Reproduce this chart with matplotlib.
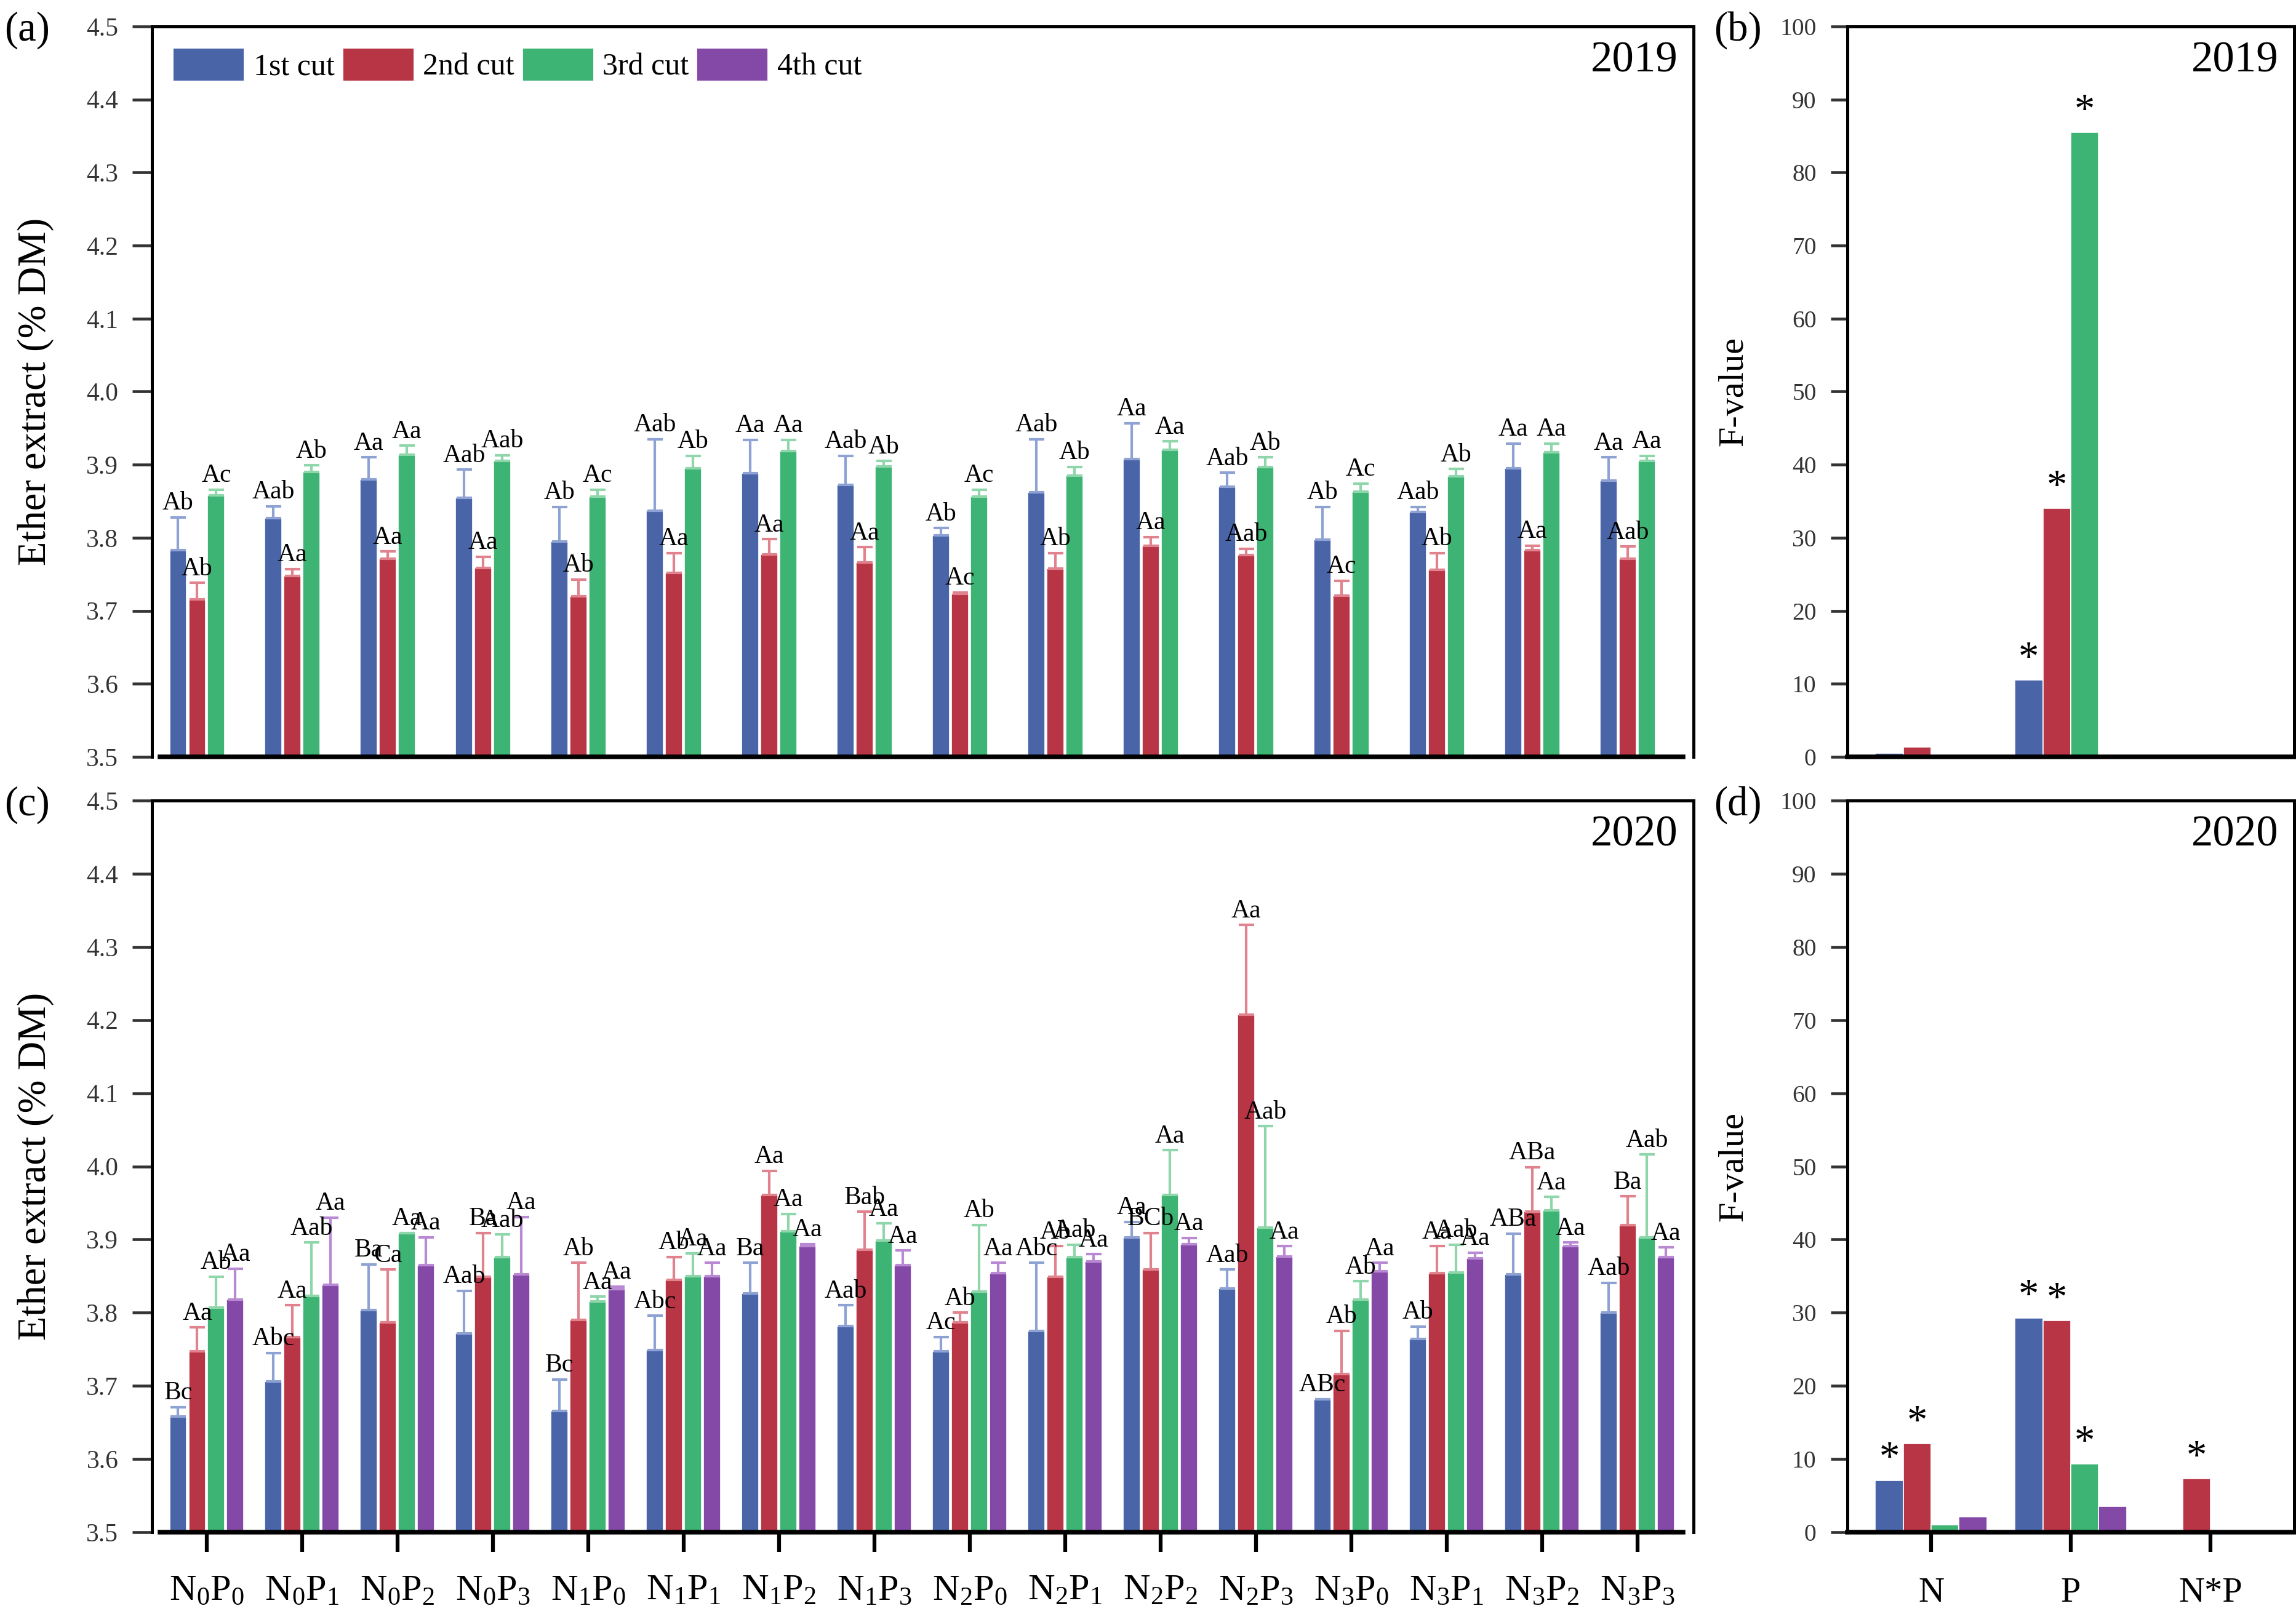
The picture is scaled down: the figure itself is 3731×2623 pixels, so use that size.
import matplotlib
matplotlib.use('Agg')
import matplotlib.pyplot as plt
import numpy as np

plt.rcParams['font.family'] = ['Liberation Serif', 'DejaVu Serif']
plt.rcParams['mathtext.fontset'] = 'custom'
plt.rcParams['mathtext.rm'] = 'Liberation Serif'
plt.rcParams['mathtext.it'] = 'Liberation Serif:italic'

treatments = [(n, p) for n in range(4) for p in range(4)]
tick_labels = [r'N$_{%d}$P$_{%d}$' % (n, p) for n, p in treatments]
cut_names = ['1st cut', '2nd cut', '3rd cut', '4th cut']
factors = ['N', 'P', 'N*P']

# 2019 ether extract (mean, upper error)
ee19_c1 = [3.783, 3.827, 3.880, 3.855, 3.795, 3.837, 3.888, 3.872, 3.803, 3.862, 3.908, 3.870, 3.797, 3.835, 3.895, 3.878]
sd19_c1 = [0.045, 0.016, 0.030, 0.038, 0.047, 0.098, 0.046, 0.040, 0.010, 0.073, 0.049, 0.019, 0.045, 0.007, 0.034, 0.032]
ee19_c2 = [3.716, 3.748, 3.771, 3.759, 3.720, 3.752, 3.777, 3.766, 3.723, 3.758, 3.789, 3.776, 3.721, 3.756, 3.783, 3.771]
sd19_c2 = [0.022, 0.009, 0.010, 0.015, 0.023, 0.027, 0.021, 0.021, 0.002, 0.021, 0.012, 0.009, 0.020, 0.023, 0.006, 0.017]
ee19_c3 = [3.858, 3.890, 3.914, 3.905, 3.856, 3.895, 3.919, 3.898, 3.856, 3.885, 3.920, 3.897, 3.863, 3.884, 3.917, 3.905]
sd19_c3 = [0.008, 0.009, 0.012, 0.008, 0.010, 0.017, 0.015, 0.007, 0.010, 0.012, 0.012, 0.013, 0.011, 0.010, 0.012, 0.007]

lab19_c1 = ['Ab', 'Aab', 'Aa', 'Aab', 'Ab', 'Aab', 'Aa', 'Aab', 'Ab', 'Aab', 'Aa', 'Aab', 'Ab', 'Aab', 'Aa', 'Aa']
lab19_c2 = ['Ab', 'Aa', 'Aa', 'Aa', 'Ab', 'Aa', 'Aa', 'Aa', 'Ac', 'Ab', 'Aa', 'Aab', 'Ac', 'Ab', 'Aa', 'Aab']
lab19_c3 = ['Ac', 'Ab', 'Aa', 'Aab', 'Ac', 'Ab', 'Aa', 'Ab', 'Ac', 'Ab', 'Aa', 'Ab', 'Ac', 'Ab', 'Aa', 'Aa']

# 2020 ether extract
ee20_c1 = [3.658, 3.706, 3.804, 3.772, 3.666, 3.749, 3.826, 3.782, 3.747, 3.775, 3.903, 3.833, 3.682, 3.764, 3.852, 3.800]
sd20_c1 = [0.013, 0.039, 0.062, 0.058, 0.043, 0.047, 0.042, 0.028, 0.020, 0.093, 0.021, 0.026, 0.000, 0.017, 0.056, 0.041]
ee20_c2 = [3.747, 3.767, 3.787, 3.849, 3.790, 3.845, 3.961, 3.886, 3.787, 3.849, 3.859, 4.207, 3.716, 3.854, 3.938, 3.920]
sd20_c2 = [0.033, 0.043, 0.072, 0.060, 0.078, 0.031, 0.033, 0.052, 0.013, 0.042, 0.050, 0.123, 0.059, 0.037, 0.061, 0.039]
ee20_c3 = [3.807, 3.823, 3.909, 3.876, 3.815, 3.850, 3.911, 3.899, 3.829, 3.876, 3.961, 3.916, 3.818, 3.855, 3.940, 3.903]
sd20_c3 = [0.042, 0.073, 0.000, 0.031, 0.007, 0.031, 0.024, 0.023, 0.091, 0.017, 0.061, 0.139, 0.025, 0.038, 0.018, 0.113]
ee20_c4 = [3.818, 3.838, 3.865, 3.852, 3.832, 3.850, 3.891, 3.865, 3.854, 3.870, 3.894, 3.877, 3.857, 3.874, 3.891, 3.876]
sd20_c4 = [0.042, 0.092, 0.038, 0.079, 0.004, 0.018, 0.003, 0.020, 0.014, 0.010, 0.008, 0.014, 0.011, 0.008, 0.005, 0.013]

lab20_c1 = ['Bc', 'Abc', 'Ba', 'Aab', 'Bc', 'Abc', 'Ba', 'Aab', 'Ac', 'Abc', 'Aa', 'Aab', 'ABc', 'Ab', 'ABa', 'Aab']
lab20_c2 = ['Aa', 'Aa', 'Ca', 'Ba', 'Ab', 'Ab', 'Aa', 'Bab', 'Ab', 'Ab', 'BCb', 'Aa', 'Ab', 'Aa', 'ABa', 'Ba']
lab20_c3 = ['Ab', 'Aab', 'Aa', 'Aab', 'Aa', 'Aa', 'Aa', 'Aa', 'Ab', 'Aab', 'Aa', 'Aab', 'Ab', 'Aab', 'Aa', 'Aab']
lab20_c4 = ['Aa', 'Aa', 'Aa', 'Aa', 'Aa', 'Aa', 'Aa', 'Aa', 'Aa', 'Aa', 'Aa', 'Aa', 'Aa', 'Aa', 'Aa', 'Aa']

# F-values of two-way ANOVA (N, P, N*P)
f19 = [[0.5, 10.5, 0.0], [1.3, 34.0, 0.0], [0.1, 85.5, 0.3], None]
sig19 = [[0, 1, 0], [0, 1, 0], [0, 1, 0], None]
f20 = [[7.1, 29.3, 0.0], [12.1, 28.9, 7.3], [1.0, 9.3, 0.0], [2.1, 3.5, 0.0]]
sig20 = [[1, 1, 0], [1, 1, 1], [0, 1, 0], [0, 0, 0]]

colors = ['#4a64a8', '#b83545', '#3db374', '#8449a6']
err_colors = ['#8fa2d4', '#e0838e', '#8fd6ab', '#b98ad3']

fig = plt.figure(figsize=(3731 / 300, 2623 / 300), dpi=300)
ax_a = fig.add_axes([0.0662, 0.5311, 0.6714, 0.4525])
ax_b = fig.add_axes([0.8046, 0.5311, 0.1946, 0.4525])
ax_c = fig.add_axes([0.0662, 0.0507, 0.6714, 0.4533])
ax_d = fig.add_axes([0.8046, 0.0507, 0.1946, 0.4533])

step = 0.2
width = 0.18
x = np.arange(len(treatments))


def style_axes(ax, size, length):
    for s in ['left', 'bottom', 'top', 'right']:
        ax.spines[s].set_linewidth(1.2)
    ax.tick_params(axis='y', direction='out', length=length, width=1.1, pad=5.5,
                   labelsize=size, colors='#333333')


def ee_panel(ax, means, errs, labels, year, show_x):
    for i, (m, e, lab) in enumerate(zip(means, errs, labels)):
        xi = x + (i - 1.5) * step
        ax.bar(xi, np.array(m) - 3.5, width, bottom=3.5, color=colors[i], edgecolor='white',
               linewidth=0.4, label=cut_names[i], zorder=2)
        ax.errorbar(xi, m, yerr=[np.zeros(len(m)), e], fmt='none', ecolor=err_colors[i],
                    elinewidth=1.0, capsize=3, capthick=1.0, zorder=3)
        for xx, mm, ee, tt in zip(xi, m, e, lab):
            ax.text(xx, mm + ee + 0.003, tt, ha='center', va='bottom', fontsize=10, zorder=4)
    ax.set_xlim(-0.574, 15.59)
    ax.set_ylim(3.5, 4.5)
    ax.set_yticks(np.arange(3.5, 4.51, 0.1))
    ax.set_yticklabels(['%.1f' % v for v in np.arange(3.5, 4.51, 0.1)])
    style_axes(ax, 10, 7.6)
    ax.spines['bottom'].set_bounds(-0.49, 15.48)
    ax.spines['bottom'].set_linewidth(1.8)
    ax.set_ylabel('Ether extract (% DM)', fontsize=15.5)
    ax.yaxis.set_label_coords(-0.0635, 0.5)
    ax.text(0.99, 0.98, year, transform=ax.transAxes, ha='right', va='top', fontsize=17)
    if show_x:
        ax.set_xticks(x)
        ax.set_xticklabels(tick_labels, fontsize=14.5)
        ax.tick_params(axis='x', direction='out', length=7.6, width=1.5, pad=9)
    else:
        ax.set_xticks([])


def f_panel(ax, fvals, sigs, year, show_x):
    fx = np.arange(1, 4)
    for i in range(4):
        if fvals[i] is None:
            continue
        xi = fx + (i - 1.5) * 0.2
        ax.bar(xi, fvals[i], 0.2, color=colors[i], edgecolor='white', linewidth=0.4, zorder=2)
        for xx, v, s in zip(xi, fvals[i], sigs[i]):
            if s:
                ax.text(xx, v + 0.3, '*', ha='center', va='bottom', fontsize=16, zorder=4)
    ax.set_xlim(0.4, 3.6)
    ax.set_ylim(0, 100)
    ax.set_yticks(np.arange(0, 101, 10))
    style_axes(ax, 9.5, 6.6)
    ax.spines['bottom'].set_linewidth(1.8)
    ax.set_ylabel('F-value', fontsize=14)
    ax.yaxis.set_label_coords(-0.218, 0.5)
    ax.text(0.965, 0.98, year, transform=ax.transAxes, ha='right', va='top', fontsize=17)
    if show_x:
        ax.set_xticks(fx)
        ax.set_xticklabels(factors, fontsize=14)
        ax.tick_params(axis='x', direction='out', length=7.6, width=1.5, pad=10)
    else:
        ax.set_xticks([])


ee_panel(ax_a, [ee19_c1, ee19_c2, ee19_c3], [sd19_c1, sd19_c2, sd19_c3],
         [lab19_c1, lab19_c2, lab19_c3], '2019', False)
ee_panel(ax_c, [ee20_c1, ee20_c2, ee20_c3, ee20_c4], [sd20_c1, sd20_c2, sd20_c3, sd20_c4],
         [lab20_c1, lab20_c2, lab20_c3, lab20_c4], '2020', True)
f_panel(ax_b, f19, sig19, '2019', False)
f_panel(ax_d, f20, sig20, '2020', True)

# legend with all four cuts (4th cut only exists in 2020)
handles = [plt.Rectangle((0, 0), 1, 1, color=c) for c in colors]
ax_a.legend(handles, cut_names, loc='upper left', bbox_to_anchor=(0.0, 1.0), ncol=4, frameon=False,
            fontsize=12, handlelength=2.2, handleheight=1.1, handletextpad=0.35, columnspacing=0.32,
            borderaxespad=0.35)

fig.text(0.002, 0.993, '(a)', fontsize=16, va='top')
fig.text(0.7465, 0.993, '(b)', fontsize=16, va='top')
fig.text(0.002, 0.513, '(c)', fontsize=16, va='top')
fig.text(0.7465, 0.513, '(d)', fontsize=16, va='top')

fig.savefig('out.png', dpi=300)
